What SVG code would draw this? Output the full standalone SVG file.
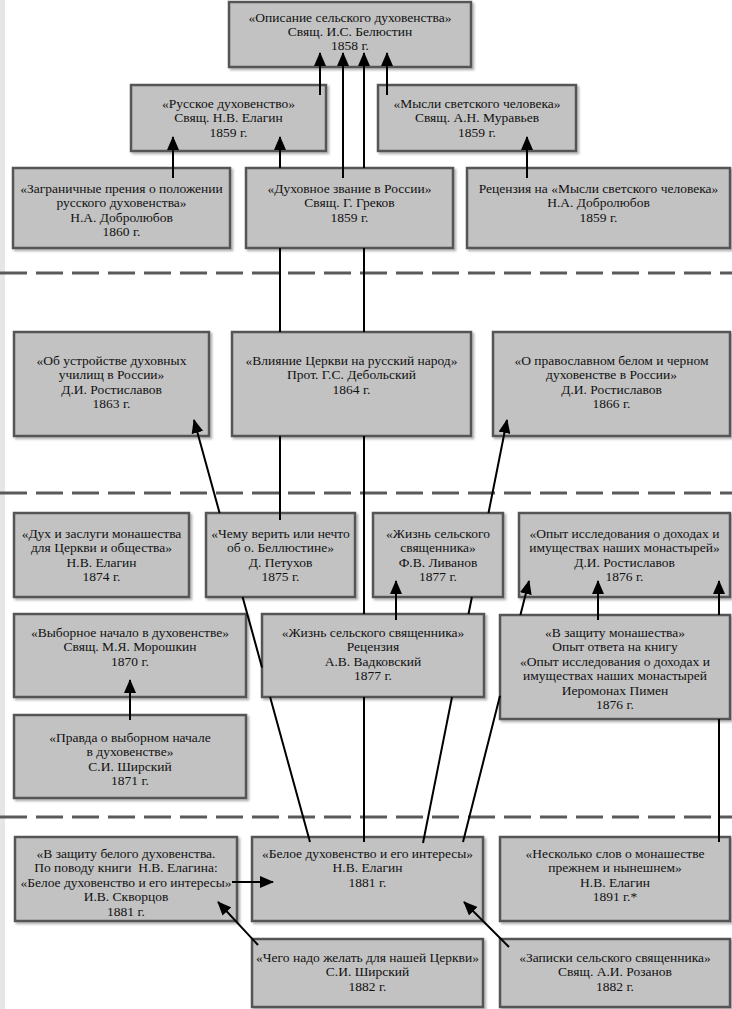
<svg xmlns="http://www.w3.org/2000/svg" width="732" height="1009" viewBox="0 0 732 1009">
<style>
  .box { fill: #c2c2c2; stroke: #555555; stroke-width: 2.5; filter: url(#sh); }
  text { font-family: "Liberation Serif", "Times New Roman", serif; font-size: 13.5px; fill: #111111; text-anchor: middle; white-space: pre; }
  .dash { stroke: #5a5a5a; stroke-width: 3; stroke-dasharray: 27 9; fill: none; }
  .arr { stroke: #000; stroke-width: 2; fill: none; marker-end: url(#ah); }
</style>
<defs>
  <filter id="sh" x="-5%" y="-5%" width="115%" height="120%">
    <feDropShadow dx="2" dy="2" stdDeviation="1.2" flood-color="#000" flood-opacity="0.3"/>
  </filter>
  <marker id="ah" markerUnits="userSpaceOnUse" markerWidth="14" markerHeight="12" refX="13" refY="6" orient="auto">
    <path d="M0,0 L14,6 L0,12 z" fill="#000"/>
  </marker>
</defs>
<rect x="0" y="0" width="732" height="1009" fill="#ffffff"/>
<rect x="0" y="0" width="5" height="1009" fill="#e6e6e6"/>

<g id="separators">
  <line class="dash" x1="0" y1="273" x2="732" y2="273"/>
  <line class="dash" x1="0" y1="493" x2="732" y2="493"/>
  <line class="dash" x1="0" y1="817" x2="732" y2="817"/>
</g>

<g id="n1"><rect class="box" x="229" y="2" width="242" height="65"/>
  <text x="350" y="21.5">«Описание сельского духовенства»</text>
  <text x="350" y="35.5">Свящ. И.С. Белюстин</text>
  <text x="350" y="49.5">1858 г.</text></g>

<g id="n2"><rect class="box" x="131" y="85" width="195" height="66"/>
  <text x="228.5" y="107.5">«Русское духовенство»</text>
  <text x="228.5" y="122">Свящ. Н.В. Елагин</text>
  <text x="228.5" y="136.5">1859 г.</text></g>

<g id="n3"><rect class="box" x="378" y="85" width="198" height="66"/>
  <text x="477" y="107.5">«Мысли светского человека»</text>
  <text x="477" y="122">Свящ. А.Н. Муравьев</text>
  <text x="477" y="136.5">1859 г.</text></g>

<g id="n4"><rect class="box" x="13" y="168" width="217" height="80"/>
  <text x="121.5" y="192.5">«Заграничные прения о положении</text>
  <text x="121.5" y="207">русского духовенства»</text>
  <text x="121.5" y="221.5">Н.А. Добролюбов</text>
  <text x="121.5" y="236">1860 г.</text></g>

<g id="n5"><rect class="box" x="246" y="168" width="207" height="80"/>
  <text x="349.5" y="192.5">«Духовное звание в России»</text>
  <text x="349.5" y="207">Свящ. Г. Греков</text>
  <text x="349.5" y="221.5">1859 г.</text></g>

<g id="n6"><rect class="box" x="467" y="168" width="263" height="80"/>
  <text x="598.5" y="192.5">Рецензия на «Мысли светского человека»</text>
  <text x="598.5" y="207">Н.А. Добролюбов</text>
  <text x="598.5" y="221.5">1859 г.</text></g>

<g id="n7"><rect class="box" x="14" y="332" width="195" height="104"/>
  <text x="111.5" y="364.5">«Об устройстве духовных</text>
  <text x="111.5" y="379">училищ в России»</text>
  <text x="111.5" y="393.5">Д.И. Ростиславов</text>
  <text x="111.5" y="408">1863 г.</text></g>

<g id="n8"><rect class="box" x="232" y="332" width="239" height="104"/>
  <text x="351.5" y="364.5">«Влияние Церкви на русский народ»</text>
  <text x="351.5" y="379">Прот. Г.С. Дебольский</text>
  <text x="351.5" y="393.5">1864 г.</text></g>

<g id="n9"><rect class="box" x="493" y="332" width="237" height="104"/>
  <text x="611.5" y="364.5">«О православном белом и черном</text>
  <text x="611.5" y="379">духовенстве в России»</text>
  <text x="611.5" y="393.5">Д.И. Ростиславов</text>
  <text x="611.5" y="408">1866 г.</text></g>

<g id="n10"><rect class="box" x="14" y="513" width="175" height="84"/>
  <text x="101.5" y="537.5">«Дух и заслуги монашества</text>
  <text x="101.5" y="552">для Церкви и общества»</text>
  <text x="101.5" y="566.5">Н.В. Елагин</text>
  <text x="101.5" y="581">1874 г.</text></g>

<g id="n11"><rect class="box" x="206" y="513" width="149" height="84"/>
  <text x="280.5" y="537.5">«Чему верить или нечто</text>
  <text x="280.5" y="552">об о. Беллюстине»</text>
  <text x="280.5" y="566.5">Д. Петухов</text>
  <text x="280.5" y="581">1875 г.</text></g>

<g id="n12"><rect class="box" x="373" y="513" width="130" height="84"/>
  <text x="438" y="537.5">«Жизнь сельского</text>
  <text x="438" y="552">священника»</text>
  <text x="438" y="566.5">Ф.В. Ливанов</text>
  <text x="438" y="581">1877 г.</text></g>

<g id="n13"><rect class="box" x="519" y="513" width="211" height="84"/>
  <text x="624.5" y="537.5">«Опыт исследования о доходах и</text>
  <text x="624.5" y="552">имуществах наших монастырей»</text>
  <text x="624.5" y="566.5">Д.И. Ростиславов</text>
  <text x="624.5" y="581">1876 г.</text></g>

<g id="n14"><rect class="box" x="14" y="614" width="232" height="83"/>
  <text x="130" y="636.5">«Выборное начало в духовенстве»</text>
  <text x="130" y="651">Свящ. М.Я. Морошкин</text>
  <text x="130" y="665.5">1870 г.</text></g>

<g id="n15"><rect class="box" x="262" y="614" width="222" height="83"/>
  <text x="373" y="636.5">«Жизнь сельского священника»</text>
  <text x="373" y="651">Рецензия</text>
  <text x="373" y="665.5">А.В. Вадковский</text>
  <text x="373" y="680">1877 г.</text></g>

<g id="n16"><rect class="box" x="500" y="615" width="230" height="104"/>
  <text x="615" y="636.5">«В защиту монашества»</text>
  <text x="615" y="651">Опыт ответа на книгу</text>
  <text x="615" y="665.5">«Опыт исследования о доходах и</text>
  <text x="615" y="680">имуществах наших монастырей</text>
  <text x="615" y="694.5">Иеромонах Пимен</text>
  <text x="615" y="709">1876 г.</text></g>

<g id="n17"><rect class="box" x="14" y="715" width="232" height="83"/>
  <text x="130" y="741.5">«Правда о выборном начале</text>
  <text x="130" y="756">в духовенстве»</text>
  <text x="130" y="770.5">С.И. Ширский</text>
  <text x="130" y="785">1871 г.</text></g>

<g id="n18"><rect class="box" x="15" y="837" width="222" height="84"/>
  <text x="126" y="857.5">«В защиту белого духовенства.</text>
  <text x="126" y="872">По поводу книги  Н.В. Елагина:</text>
  <text x="126" y="886.5">«Белое духовенство и его интересы»</text>
  <text x="126" y="901">И.В. Скворцов</text>
  <text x="126" y="915.5">1881 г.</text></g>

<g id="n19"><rect class="box" x="252" y="837" width="231" height="84"/>
  <text x="367.5" y="857.5">«Белое духовенство и его интересы»</text>
  <text x="367.5" y="872">Н.В. Елагин</text>
  <text x="367.5" y="886.5">1881 г.</text></g>

<g id="n20"><rect class="box" x="500" y="837" width="230" height="84"/>
  <text x="615" y="857.5">«Несколько слов о монашестве</text>
  <text x="615" y="872">прежнем и нынешнем»</text>
  <text x="615" y="886.5">Н.В. Елагин</text>
  <text x="615" y="901">1891 г.*</text></g>

<g id="n21"><rect class="box" x="252" y="939" width="231" height="68"/>
  <text x="367.5" y="961.5">«Чего надо желать для нашей Церкви»</text>
  <text x="367.5" y="976">С.И. Ширский</text>
  <text x="367.5" y="990.5">1882 г.</text></g>

<g id="n22"><rect class="box" x="500" y="939" width="230" height="68"/>
  <text x="615" y="961.5">«Записки сельского священника»</text>
  <text x="615" y="976">Свящ. А.И. Розанов</text>
  <text x="615" y="990.5">1882 г.</text></g>

<g id="connectors">
  <path class="arr" d="M320 95 L320 53"/>
  <path class="arr" d="M387 95 L387 53"/>
  <path class="arr" d="M343 178 L343 53"/>
  <path class="arr" d="M364 842 L364 697 M364 614 L364 436 M364 332 L364 248 M364 168 L364 53"/>
  <path class="arr" d="M280 520 L280 436 M280 332 L280 248 M280 168 L280 137"/>
  <path class="arr" d="M173 178 L173 137"/>
  <path class="arr" d="M527 178 L527 137"/>
  <path class="arr" d="M310 842 L270.1 697 M262 667.4 L242.6 597 M219.6 513 L194 420"/>
  <path class="arr" d="M423 843 L452 697 M468.5 614 L471.9 597 M488.5 513 L507 420"/>
  <path class="arr" d="M463 842 L500 695.7 M520.4 615 L529 581"/>
  <path class="arr" d="M396 620 L396 581"/>
  <path class="arr" d="M598 620 L598 581"/>
  <path class="arr" d="M719 842 L719 719 M719 615 L719 581"/>
  <path class="arr" d="M130 720 L130 680"/>
  <path class="arr" d="M232 882 L273 882"/>
  <path class="arr" d="M258 945 L218 902"/>
  <path class="arr" d="M509 947 L464 902"/>
</g>
</svg>
